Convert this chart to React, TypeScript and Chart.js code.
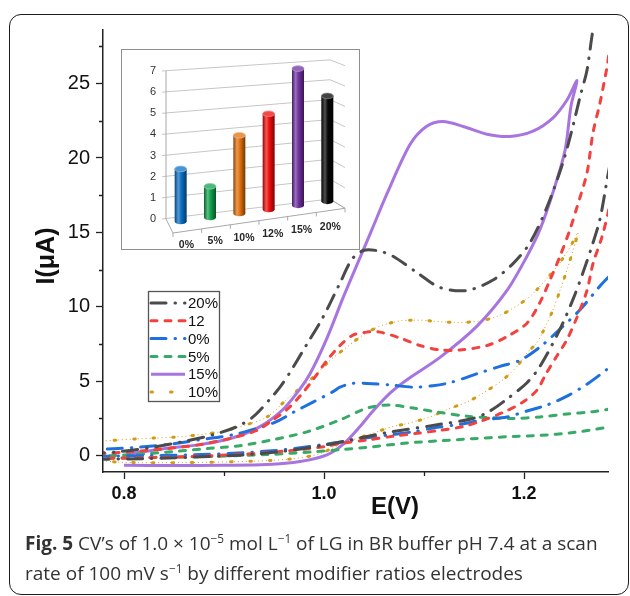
import React, { useEffect, useRef } from "react";
import { Chart, registerables } from "chart.js";

Chart.register(...registerables);

type Pt = [number, number];

// Cyclic voltammograms, [E (V), I (µA)]: out along the lower branch, back along the upper one
const cv20: Pt[] = [
  [0.77, -0.25], [0.82, -0.2], [0.87, -0.1], [0.92, 0.05], [0.96, 0.3], [1.0, 0.7],
  [1.026, 1.05], [1.063, 1.55], [1.106, 2.0], [1.149, 2.5], [1.166, 3.0], [1.183, 3.8],
  [1.203, 4.9], [1.216, 6.0], [1.236, 8.5], [1.249, 10.5], [1.259, 12.3], [1.269, 14.3],
  [1.276, 15.9], [1.283, 18.5], [1.292, 22], [1.31, 34], [1.283, 33], [1.269, 28.6],
  [1.263, 25.9], [1.256, 24.1], [1.248, 21.9], [1.239, 19.7], [1.223, 16.7], [1.206, 14.3],
  [1.189, 12.9], [1.169, 11.8], [1.143, 11.1], [1.116, 11.3], [1.093, 12.3], [1.069, 13.4],
  [1.055, 13.75], [1.04, 13.8], [1.028, 13.2], [1.016, 11.6], [0.999, 9.3], [0.983, 7.5],
  [0.966, 5.6], [0.956, 4.6], [0.946, 3.8], [0.929, 2.6], [0.913, 1.95], [0.889, 1.4],
  [0.859, 0.94], [0.826, 0.54], [0.796, 0.27], [0.77, 0.15],
];

const cv12: Pt[] = [
  [0.77, -0.2], [0.82, -0.15], [0.87, -0.05], [0.92, 0.1], [0.96, 0.3], [1.0, 0.6],
  [1.019, 0.85], [1.043, 1.05], [1.069, 1.3], [1.093, 1.5], [1.116, 1.7], [1.139, 1.95],
  [1.156, 2.3], [1.179, 2.9], [1.199, 3.6], [1.213, 4.4], [1.222, 5.5], [1.232, 6.6],
  [1.243, 7.8], [1.253, 9.3], [1.263, 11.1], [1.269, 12.9], [1.278, 14.7], [1.285, 16.6],
  [1.3, 22], [1.31, 30], [1.29, 28.6], [1.283, 26.1], [1.276, 23.7], [1.269, 21.7],
  [1.263, 19.0], [1.253, 16.7], [1.246, 15.2], [1.236, 13.4], [1.226, 11.8], [1.216, 10.3],
  [1.203, 8.9], [1.183, 8.0], [1.163, 7.4], [1.136, 7.1], [1.116, 7.1], [1.096, 7.4],
  [1.076, 7.9], [1.056, 8.3], [1.043, 8.3], [1.029, 8.1], [1.016, 7.4], [1.003, 6.4],
  [0.989, 5.1], [0.976, 4.0], [0.963, 3.1], [0.949, 2.4], [0.933, 1.7], [0.909, 1.2],
  [0.876, 0.74], [0.843, 0.47], [0.809, 0.27], [0.77, 0.1],
];

const cv0: Pt[] = [
  [0.77, -0.05], [0.82, 0.0], [0.87, 0.05], [0.92, 0.2], [0.96, 0.4], [1.0, 0.75],
  [1.019, 0.94], [1.043, 1.2], [1.066, 1.4], [1.089, 1.6], [1.113, 1.9], [1.136, 2.1],
  [1.159, 2.4], [1.183, 2.6], [1.203, 3.0], [1.223, 3.4], [1.243, 4.0], [1.263, 4.8],
  [1.283, 5.8], [1.3, 6.8], [1.32, 9.5], [1.3, 12.8], [1.283, 11.9], [1.276, 11.4],
  [1.256, 9.8], [1.236, 8.5], [1.216, 7.3], [1.196, 6.4], [1.176, 6.0], [1.153, 5.5],
  [1.126, 4.9], [1.109, 4.7], [1.089, 4.6], [1.066, 4.75], [1.043, 4.85], [1.028, 4.85],
  [1.016, 4.6], [1.009, 4.3], [0.989, 3.6], [0.969, 2.9], [0.953, 2.3], [0.936, 1.9],
  [0.909, 1.4], [0.876, 1.07], [0.843, 0.74], [0.809, 0.54], [0.77, 0.4],
];

const cv5: Pt[] = [
  [0.77, -0.15], [0.809, -0.13], [0.876, -0.07], [0.943, 0.07], [0.993, 0.27], [1.016, 0.4],
  [1.049, 0.6], [1.083, 0.85], [1.116, 1.0], [1.149, 1.14], [1.183, 1.27], [1.216, 1.36],
  [1.249, 1.55], [1.283, 1.9], [1.3, 2.1], [1.32, 2.6], [1.3, 3.2], [1.283, 3.1],
  [1.269, 2.95], [1.243, 2.8], [1.216, 2.6], [1.189, 2.5], [1.166, 2.55], [1.143, 2.65],
  [1.116, 2.9], [1.089, 3.2], [1.066, 3.4], [1.05, 3.3], [1.039, 3.1], [1.016, 2.4],
  [0.983, 1.6], [0.949, 1.07], [0.916, 0.67], [0.883, 0.47], [0.849, 0.27], [0.809, 0.07],
  [0.77, -0.05],
];

const cv15: Pt[] = [
  [0.8, -0.65], [0.85, -0.67], [0.9, -0.65], [0.943, -0.6], [0.976, -0.4], [1.003, 0.05],
  [1.019, 0.75], [1.036, 1.95], [1.049, 3.0], [1.066, 4.2], [1.083, 5.1], [1.116, 6.6],
  [1.153, 8.7], [1.183, 11.1], [1.203, 13.4], [1.216, 15.2], [1.229, 17.7], [1.241, 20.5],
  [1.247, 23.5], [1.253, 25.2], [1.243, 23.9], [1.229, 22.7], [1.209, 21.8], [1.186, 21.45],
  [1.163, 21.6], [1.14, 22.1], [1.119, 22.45], [1.102, 22.1], [1.086, 20.9], [1.063, 17.6],
  [1.048, 15.2], [1.036, 13.3], [1.019, 10.6], [1.003, 7.9], [0.986, 5.5], [0.974, 4.3],
  [0.959, 3.1], [0.936, 1.95], [0.909, 1.2], [0.876, 0.74], [0.843, 0.5], [0.803, 0.1],
];

const cv10: Pt[] = [
  [0.77, -0.3], [0.799, -0.45], [0.856, -0.47], [0.916, -0.4], [0.963, -0.25], [0.993, 0.07],
  [1.01, 0.55], [1.029, 1.07], [1.049, 1.5], [1.066, 1.9], [1.086, 2.2], [1.106, 2.6],
  [1.123, 3.1], [1.143, 3.6], [1.159, 4.2], [1.179, 5.1], [1.193, 6.0], [1.203, 6.9],
  [1.213, 7.6], [1.223, 8.9], [1.229, 9.8], [1.236, 11.1], [1.244, 12.7], [1.249, 13.8],
  [1.254, 15.0], [1.246, 14.0], [1.233, 12.7], [1.219, 11.6], [1.206, 10.7], [1.189, 9.9],
  [1.173, 9.35], [1.156, 9.05], [1.136, 8.95], [1.116, 9.0], [1.096, 9.1], [1.076, 9.05],
  [1.056, 8.7], [1.039, 8.1], [1.023, 7.3], [1.006, 6.4], [0.988, 5.2], [0.963, 3.8],
  [0.943, 2.6], [0.916, 1.95], [0.896, 1.6], [0.856, 1.27], [0.816, 1.14], [0.77, 0.95],
];

const seriesLabels = ["20%", "12", "0%", "5%", "15%", "10%"];
const seriesCurves = [cv20, cv12, cv0, cv5, cv15, cv10];
const seriesColors = ["#4b4b4b", "#f2413f", "#1f70df", "#38aa68", "#a875e0", "#d29c12"];
const seriesDashes: number[][] = [
  [15, 9, 0.5, 9],
  [6, 8],
  [15, 9, 0.5, 9],
  [6, 8],
  [],
  [1.5, 18],
];

const xMin = 0.779;
const xMax = 1.284;
const yMin = -1.1;
const yMax = 28.6;
const xMinorTicks = [0.9, 1.1];
const yMinorTicks = [2.5, 7.5, 12.5, 17.5, 22.5, 27.5];
const xTitle = "E(V)";
const yTitle = "I(\u03bcA)";

// Inset: peak current for each modifier ratio
const insetCategories = ["0%", "5%", "10%", "12%", "15%", "20%"];
const insetValues = [2.5, 1.5, 3.8, 4.7, 6.8, 5.3];
const insetColors = ["#0b6fc4", "#12a04c", "#e2700e", "#f20c0c", "#7030a0", "#060606"];

const FONT = "'Liberation Sans', Arial, sans-serif";

const cvDecor = {
  id: "cvDecor",
  afterDraw(chart: any) {
    const { ctx, chartArea: ca, scales } = chart;
    const xs = scales.x;
    const ys = scales.y;
    ctx.save();
    // minor tick marks
    ctx.strokeStyle = "#222";
    ctx.lineWidth = 1.3;
    ctx.beginPath();
    for (const v of yMinorTicks) {
      const py = Math.round(ys.getPixelForValue(v)) + 0.5;
      ctx.moveTo(ca.left - 4, py);
      ctx.lineTo(ca.left, py);
    }
    for (const v of xMinorTicks) {
      const px = Math.round(xs.getPixelForValue(v)) + 0.5;
      ctx.moveTo(px, ca.bottom);
      ctx.lineTo(px, ca.bottom + 4);
    }
    ctx.stroke();

    // axis titles
    ctx.fillStyle = "#111";
    ctx.textAlign = "center";
    ctx.textBaseline = "middle";
    ctx.font = `bold 24px ${FONT}`;
    ctx.fillText(xTitle, ca.left + 292, ca.bottom + 35);
    ctx.save();
    ctx.translate(ca.left - 56, ca.top + 226);
    ctx.rotate(-Math.PI / 2);
    ctx.font = `bold 25px ${FONT}`;
    ctx.fillText(yTitle, 0, 0);
    ctx.restore();

    // legend box
    const lx = ca.left + 45;
    const ly = ca.top + 261;
    const lw = 71;
    const lh = 110;
    ctx.fillStyle = "#fff";
    ctx.fillRect(lx, ly, lw, lh);
    ctx.strokeStyle = "#555";
    ctx.lineWidth = 1.3;
    ctx.setLineDash([]);
    ctx.strokeRect(lx + 0.5, ly + 0.5, lw, lh);
    ctx.font = `15px ${FONT}`;
    ctx.textAlign = "left";
    ctx.textBaseline = "middle";
    let row = 0;
    chart.data.datasets.forEach((ds: any) => {
      if (!ds.label) return;
      const y = ly + 12 + row * 17.8;
      ctx.save();
      ctx.strokeStyle = ds.borderColor;
      ctx.lineWidth = ds.borderWidth;
      ctx.lineCap = ds.borderCapStyle;
      ctx.setLineDash(ds.borderDash || []);
      ctx.beginPath();
      ctx.moveTo(lx + 3, y);
      ctx.lineTo(lx + 37, y);
      ctx.stroke();
      ctx.restore();
      ctx.fillStyle = "#111";
      ctx.fillText(ds.label, lx + 40, y + 1);
      row++;
    });
    ctx.restore();
  },
};

function rgbOf(hex: string): number[] {
  const h = hex.replace("#", "");
  return [0, 2, 4].map((i) => parseInt(h.slice(i, i + 2), 16));
}

function shade(hex: string, k: number): string {
  const [r, g, b] = rgbOf(hex);
  const f = (c: number) =>
    Math.round(k >= 1 ? c + (255 - c) * (k - 1) : c * k);
  return `rgb(${f(r)},${f(g)},${f(b)})`;
}

function drawCylinder(ctx: CanvasRenderingContext2D, cx: number, yTop: number, yBase: number, rx: number, ry: number, color: string) {
  const grad = ctx.createLinearGradient(cx - rx, 0, cx + rx, 0);
  grad.addColorStop(0, shade(color, 0.6));
  grad.addColorStop(0.3, shade(color, 1.3));
  grad.addColorStop(0.55, shade(color, 1.0));
  grad.addColorStop(1, shade(color, 0.5));
  ctx.fillStyle = grad;
  ctx.beginPath();
  ctx.moveTo(cx - rx, yTop);
  ctx.lineTo(cx - rx, yBase);
  ctx.ellipse(cx, yBase, rx, ry, 0, Math.PI, 0, true);
  ctx.lineTo(cx + rx, yTop);
  ctx.closePath();
  ctx.fill();
  ctx.beginPath();
  ctx.ellipse(cx, yTop, rx, ry, 0, 0, Math.PI * 2);
  ctx.fillStyle = shade(color, 1.25);
  ctx.fill();
  ctx.strokeStyle = shade(color, 1.5);
  ctx.lineWidth = 0.8;
  ctx.stroke();
}

const cylinders = {
  id: "cylinders",
  beforeDatasetsDraw(chart: any) {
    const { ctx, chartArea: ca, scales } = chart;
    const ys = scales.y;
    const top = ys.max;
    const L = ca.left;
    const R = ca.right - 12;
    const F = ca.right + 3;
    const y0L = ys.getPixelForValue(0);
    const unitL = (y0L - ys.getPixelForValue(top)) / top;
    const y0R = y0L - 20;
    const unitR = unitL * 0.94;
    const wall = (v: number, x: number) => {
      const t = (x - L) / (R - L);
      const yl = ys.getPixelForValue(v);
      const yr = y0R - v * unitR;
      return yl + (yr - yl) * t;
    };
    ctx.save();
    // back wall and right side wall grid
    ctx.lineWidth = 1;
    ctx.strokeStyle = "#c6c6c6";
    for (let v = 0; v <= top; v++) {
      const yl = ys.getPixelForValue(v);
      const yr = wall(v, R);
      ctx.beginPath();
      ctx.moveTo(L - 4, yl);
      ctx.lineTo(R, yr);
      ctx.lineTo(F, yr + 9.3 - 0.5 * v);
      ctx.stroke();
    }
    // left wall edge and floor outline
    ctx.strokeStyle = "#a8a8a8";
    ctx.beginPath();
    ctx.moveTo(L, ys.getPixelForValue(top));
    ctx.lineTo(L, y0L);
    ctx.stroke();
    const fl = [L + 7, y0L + 14];
    const fr = [F, y0R + 9.3];
    ctx.beginPath();
    ctx.moveTo(L, y0L);
    ctx.lineTo(fl[0], fl[1]);
    ctx.lineTo(fr[0], fr[1]);
    ctx.lineTo(R, y0R);
    ctx.stroke();
    const n = chart.data.labels.length;
    ctx.beginPath();
    for (let i = 0; i <= n; i++) {
      const px = fl[0] + ((fr[0] - fl[0]) * i) / n;
      const py = fl[1] + ((fr[1] - fl[1]) * i) / n;
      ctx.moveTo(px, py);
      ctx.lineTo(px, py + 4);
    }
    ctx.stroke();

    // bars as cylinders
    const meta = chart.getDatasetMeta(0);
    const ds = chart.data.datasets[0];
    meta.data.forEach((bar: any, i: number) => {
      const v = ds.data[i];
      const cx = bar.x;
      const t = (cx - L) / (R - L);
      const front = 4.5 - 2.5 * t;
      drawCylinder(ctx, cx, wall(v, cx) + front, wall(0, cx) + front, 6, 2.8, ds.backgroundColor[i]);
    });

    // category labels along the front edge
    ctx.font = `bold 10.5px ${FONT}`;
    ctx.fillStyle = "#262626";
    ctx.textAlign = "center";
    ctx.textBaseline = "middle";
    meta.data.forEach((bar: any, i: number) => {
      const t = (bar.x - L) / (R - L);
      const lx = bar.x + 6 - 3 * t;
      const ly = fl[1] + ((fr[1] - fl[1]) * (lx - fl[0])) / (fr[0] - fl[0]) + 14 + 2.3 * t;
      ctx.fillText(chart.data.labels[i], lx, ly);
    });
    ctx.restore();
    return false;
  },
};

function CvChart() {
  const ref = useRef<HTMLCanvasElement>(null);
  useEffect(() => {
    const toXY = (pts: Pt[]) => pts.map(([x, y]) => ({ x, y }));
    const datasets: any[] = seriesCurves.map((pts, i) => ({
      label: seriesLabels[i],
      data: toXY(pts),
      borderColor: seriesColors[i],
      borderWidth: 3,
      borderDash: seriesDashes[i],
      borderCapStyle: seriesDashes[i].length ? "round" : "butt",
      borderJoinStyle: "round",
      pointRadius: 0,
      showLine: true,
      tension: 0.3,
      fill: false,
      clip: 0,
    }));
    // fine dotted thread between the 10% dots
    datasets.push({
      label: "",
      data: toXY(cv10),
      borderColor: seriesColors[5],
      borderWidth: 1,
      borderDash: [1, 3],
      pointRadius: 0,
      showLine: true,
      tension: 0.3,
      fill: false,
      clip: 0,
    });
    const axisGrid = {
      display: true,
      drawOnChartArea: false,
      drawTicks: true,
      tickLength: 7,
      tickColor: "#222",
      tickWidth: 1.3,
    };
    const chart = new Chart(ref.current!, {
      type: "scatter",
      data: { datasets },
      options: {
        animation: false,
        responsive: false,
        events: [],
        layout: { padding: { top: 30, right: 22, left: 0, bottom: 0 } },
        plugins: { legend: { display: false }, tooltip: { enabled: false } },
        scales: {
          x: {
            type: "linear",
            min: xMin,
            max: xMax,
            ticks: {
              stepSize: 0.2,
              includeBounds: false,
              autoSkip: false,
              maxRotation: 0,
              padding: 4,
              color: "#111",
              font: { family: FONT, size: 18, weight: "bold" },
              callback: (v: any) => Number(v).toFixed(1),
            },
            grid: axisGrid,
            border: { display: true, color: "#222", width: 1.5 },
            afterFit: (s: any) => {
              s.height = 58;
              s.paddingLeft = 0;
              s.paddingRight = 0;
            },
          },
          y: {
            type: "linear",
            min: yMin,
            max: yMax,
            ticks: {
              stepSize: 5,
              includeBounds: false,
              padding: 6,
              color: "#111",
              font: { family: FONT, size: 20 },
            },
            grid: axisGrid,
            border: { display: true, color: "#222", width: 1.5 },
            afterFit: (s: any) => {
              s.width = 103;
              s.paddingTop = 0;
              s.paddingBottom = 0;
            },
          },
        },
      } as any,
      plugins: [cvDecor],
    });
    return () => chart.destroy();
  }, []);
  return (
    <canvas
      ref={ref}
      width={630}
      height={530}
      style={{ position: "absolute", left: 0, top: 0, width: 630, height: 530 }}
    />
  );
}

function InsetChart() {
  const ref = useRef<HTMLCanvasElement>(null);
  useEffect(() => {
    const chart = new Chart(ref.current!, {
      type: "bar",
      data: {
        labels: insetCategories,
        datasets: [{ data: insetValues, backgroundColor: insetColors }],
      },
      options: {
        animation: false,
        responsive: false,
        events: [],
        layout: { padding: { top: 21, right: 17, left: 0, bottom: 0 } },
        plugins: { legend: { display: false }, tooltip: { enabled: false } },
        scales: {
          x: {
            grid: { display: false, drawTicks: false },
            border: { display: false },
            ticks: { display: false },
            afterFit: (s: any) => {
              s.height = 30;
              s.paddingLeft = 0;
              s.paddingRight = 0;
            },
          },
          y: {
            min: 0,
            max: 7,
            ticks: {
              stepSize: 1,
              padding: 10,
              color: "#333",
              font: { family: FONT, size: 11 },
            },
            grid: { display: false, drawTicks: false },
            border: { display: false },
            afterFit: (s: any) => {
              s.width = 44;
              s.paddingTop = 0;
              s.paddingBottom = 0;
            },
          },
        },
      } as any,
      plugins: [cylinders],
    });
    return () => chart.destroy();
  }, []);
  return (
    <div
      style={{
        position: "absolute",
        left: 121,
        top: 49,
        width: 239,
        height: 201,
        boxSizing: "border-box",
        border: "1px solid #8e8e8e",
        background: "#fff",
      }}
    >
      <canvas ref={ref} width={237} height={199} style={{ display: "block", width: 237, height: 199 }} />
    </div>
  );
}

const supStyle: React.CSSProperties = {
  fontSize: "0.62em",
  verticalAlign: "baseline",
  position: "relative",
  top: "-0.6em",
};

export default function App() {
  return (
    <div
      style={{
        position: "fixed",
        left: 0,
        top: 0,
        width: 630,
        height: 596,
        background: "#fff",
        overflow: "hidden",
      }}
    >
      <div
        style={{
          position: "absolute",
          left: 9,
          top: 14,
          width: 620,
          height: 581,
          boxSizing: "border-box",
          border: "1.5px solid #1c1c1c",
          borderRadius: 12,
        }}
      />
      <CvChart />
      <InsetChart />
      <div
        style={{
          position: "absolute",
          left: 25,
          top: 529,
          fontFamily: "'Open Sans', sans-serif",
          fontSize: 19,
          lineHeight: "28px",
          color: "#333",
          whiteSpace: "nowrap",
        }}
      >
        <b>Fig. 5</b> CV’s of 1.0 × 10<span style={supStyle}>−5</span> mol L<span style={supStyle}>−1</span> of LG in BR buffer pH 7.4 at a scan
        <br />
        rate of 100 mV s<span style={supStyle}>−1</span> by different modifier ratios electrodes
      </div>
    </div>
  );
}
